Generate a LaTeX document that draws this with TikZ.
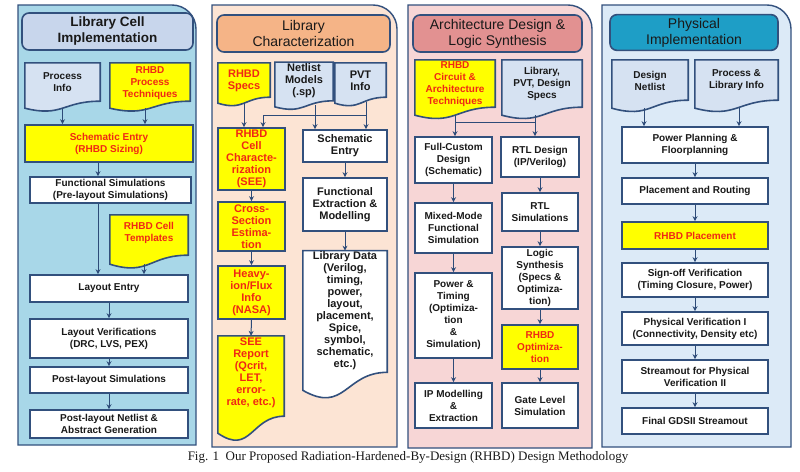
\documentclass[tikz,border=0pt]{standalone}
\usepackage{fontspec}
\newfontfamily\boxfont{Liberation Sans}
\newfontfamily\capfont{Liberation Serif}
\usetikzlibrary{arrows.meta,calc}

\definecolor{boxline}{RGB}{50,80,125}
\definecolor{flowc}{RGB}{45,75,120}
\definecolor{inkc}{RGB}{25,25,25}
\definecolor{panelA}{RGB}{168,215,232}
\definecolor{titleA}{RGB}{200,214,236}
\definecolor{panelB}{RGB}{252,228,212}
\definecolor{titleB}{RGB}{245,180,135}
\definecolor{panelC}{RGB}{247,214,214}
\definecolor{titleC}{RGB}{226,145,145}
\definecolor{panelD}{RGB}{220,234,247}
\definecolor{titleD}{RGB}{30,158,198}
\definecolor{docblue}{RGB}{214,226,242}
\definecolor{rhbdyel}{RGB}{255,255,0}
\definecolor{rhbdred}{RGB}{240,40,20}

\pgfdeclarelayer{bottom}
\pgfdeclarelayer{back}
\pgfsetlayers{bottom,back,main}

\newcommand{\boxtxt}{\boxfont\bfseries\fontsize{10}{12}\selectfont}
\newcommand{\widetxt}{\boxfont\bfseries\fontsize{11}{12}\selectfont}

% wavy document outline under a node: name, fill, depth, amplitude
\newcommand{\wave}[4]{%
\begin{pgfonlayer}{back}
\draw[docline, fill=#2] (#1.north west) -- (#1.north east) -- ([yshift=-#3pt+#4pt]#1.south east)
  .. controls ([yshift=-#3pt+#4pt]#1.south) and ([yshift=-#3pt-#4pt*4/3]#1.south) .. ([yshift=-#3pt]#1.south west) -- cycle;
\end{pgfonlayer}}

\tikzset{
  wh/.style 2 args={minimum width=#1, minimum height=#2},
  box/.style={draw=boxline, line width=1.6pt, fill=white, text=inkc, align=center, inner sep=1pt, font=\boxtxt},
  rhbd/.style={box, fill=rhbdyel, text=rhbdred},
  doc/.style={align=center, inner sep=1pt, text=inkc, font=\boxtxt},
  rdoc/.style={doc, text=rhbdred},
  wide/.style={font=\widetxt},
  docline/.style={draw=boxline, line width=1.6pt},
  title/.style={draw=boxline, line width=1.6pt, rounded corners=7pt, align=center, text=inkc, font=\boxfont\fontsize{14}{16}\selectfont},
  panel/.style={draw=boxline, line width=1.4pt},
  flow/.style={draw=flowc, line width=1pt, -{Stealth[length=5pt,width=5pt]}},
  link/.style={draw=flowc, line width=1pt}
}

\begin{document}
\begin{tikzpicture}[x=1pt,y=-1pt]
\useasboundingbox (0,0) rectangle (800,471);

% column panels
\begin{pgfonlayer}{bottom}
\draw[panel, fill=panelA] (100,5) [rounded corners=24pt] -- (196,5) -- (196,120) [sharp corners] -- (196,445) -- (18,445) -- (18,5) -- cycle;
\draw[panel, fill=panelB] (300,5) [rounded corners=24pt] -- (397,5) -- (397,120) [sharp corners] -- (397,447) -- (212,447) -- (212,5) -- cycle;
\draw[panel, fill=panelC] (500,5) [rounded corners=24pt] -- (592,5) -- (592,120) [sharp corners] -- (592,448) -- (408,448) -- (408,5) -- cycle;
\draw[panel, fill=panelD] (700,5) [rounded corners=24pt] -- (791,5) -- (791,120) [sharp corners] -- (791,447) -- (602,447) -- (602,5) -- cycle;
\end{pgfonlayer}

% Library Cell Implementation
\node[title, fill=titleA, wh={171}{37}, font=\boxfont\bfseries\fontsize{13.5}{16}\selectfont] (t1) at (107.5,31.5) {Library Cell\\Implementation};
\node[doc, wh={75}{38}] (d1a) at (62.5,82) {Process\\Info};
\node[rdoc, wh={80}{40}] (d1b) at (150,83) {RHBD\\Process\\Techniques};
\node[rhbd, wh={168}{37}] (b1) at (109,143.5) {Schematic Entry\\(RHBD Sizing)};
\node[box, wh={161}{26}] (b2) at (110.5,190) {Functional Simulations\\(Pre-layout Simulations)};
\node[rdoc, wh={78}{36}] (d1c) at (149,233) {RHBD Cell\\Templates};
\node[box, wh={158}{27}] (b3) at (109,288.5) {Layout Entry};
\node[box, wh={158}{39}] (b4) at (109,338.5) {Layout Verifications\\(DRC, LVS, PEX)};
\node[box, wh={158}{26}] (b5) at (109,380) {Post-layout Simulations};
\node[box, wh={158}{28}] (b6) at (109,424) {Post-layout Netlist \&\\Abstract Generation};
\wave{d1a}{docblue}{7}{7}
\wave{d1b}{rhbdyel}{5}{7}
\wave{d1c}{rhbdyel}{13}{9}

\draw[flow] ([yshift=-7pt]d1a.south) -- (d1a.south |- b1.north);
\draw[flow] ([xshift=-5pt,yshift=-5pt]d1b.south) -- ([xshift=-5pt]d1b.south |- b1.north);
\draw[flow] ([xshift=-11pt]b1.south) -- ([xshift=-11pt]b1.south |- b2.north);
\draw[flow] ([xshift=-12.5pt]b2.south) -- ([xshift=-12.5pt]b2.south |- b3.north);
\draw[flow] ([xshift=-5pt,yshift=-13pt]d1c.south) -- ([xshift=-5pt]d1c.south |- b3.north);
\draw[flow] (b3) -- (b4);
\draw[flow] (b4) -- (b5);
\draw[flow] (b5) -- (b6);

% Library Characterization
\node[title, fill=titleB, wh={173}{37}] (t2) at (303.5,33.5) {Library\\Characterization};
\node[rdoc, wide, wh={52}{36}] (d2a) at (244,81) {RHBD\\Specs};
\node[doc, wide, wh={58}{35}] (d2b) at (304,80.5) {Netlist\\Models\\(.sp)};
\node[doc, wide, wh={51}{36}] (d2c) at (360.5,81) {PVT\\Info};
\node[rhbd, wide, wh={67}{62}] (b2a) at (251.5,159) {RHBD\\Cell\\Characte-\\rization\\(SEE)};
\node[rhbd, wide, wh={67}{49}] (b2b) at (251.5,226.5) {Cross-\\Section\\Estima-\\tion};
\node[rhbd, wide, wh={67}{53}] (b2c) at (251.5,292.5) {Heavy-\\ion/Flux\\Info\\(NASA)};
\node[rdoc, wide, wh={66}{74}] (d2d) at (251,373) {SEE\\Report\\(Qcrit,\\LET,\\error-\\rate, etc.)};
\node[box, wide, wh={84}{32}] (b2d) at (345,146) {Schematic\\Entry};
\node[box, wide, wh={84}{53}] (b2e) at (345,204.5) {Functional\\Extraction \&\\Modelling};
\node[doc, wide, wh={84}{120}] (d2e) at (345,311) {Library Data\\(Verilog,\\timing,\\power,\\layout,\\placement,\\Spice,\\symbol,\\schematic,\\etc.)};
\wave{d2a}{rhbdyel}{4}{6}
\wave{d2b}{docblue}{8}{6}
\wave{d2c}{docblue}{4}{6}
\wave{d2d}{rhbdyel}{23}{17}
\wave{d2e}{white}{19}{18}

\coordinate (j2) at (263,115);
\draw[flow] ([yshift=-4pt]d2a.south) -- (d2a.south |- b2a.north);
\draw[flow] ([xshift=11pt,yshift=-6pt]d2b.south) -- ([xshift=11pt]d2b.south |- b2d.north);
\draw[flow] ([xshift=5.5pt,yshift=-3pt]d2c.south) -- ([xshift=5.5pt]d2c.south |- b2d.north);
\draw[link] (j2) -- ([xshift=5.5pt]j2 -| d2c.south);
\draw[flow] (j2) -- (j2 |- b2a.north);
\draw[flow] (b2a) -- (b2b);
\draw[flow] (b2b) -- (b2c);
\draw[flow] (b2c.south) -- (d2d.north);
\draw[flow] (b2d) -- (b2e);
\draw[flow] (b2e.south) -- (d2e.north);

% Architecture Design & Logic Synthesis
\node[title, fill=titleC, wh={169}{37}] (t3) at (497.5,33.5) {Architecture Design \&\\Logic Synthesis};
\node[rdoc, wh={80}{49}] (d3a) at (455,84.5) {RHBD\\Circuit \&\\Architecture\\Techniques};
\node[doc, wh={80}{48}] (d3b) at (542,84) {Library,\\PVT, Design\\Specs};
\node[box, wh={77}{46}] (b3a) at (453.5,160) {Full-Custom\\Design\\(Schematic)};
\node[box, wh={78}{40}] (b3b) at (540,157) {RTL Design\\(IP/Verilog)};
\node[box, wh={77}{50}] (b3c) at (453.5,228) {Mixed-Mode\\Functional\\Simulation};
\node[box, wh={76}{38}] (b3d) at (540,212) {RTL\\Simulations};
\node[box, wh={76}{62}] (b3e) at (540,278) {Logic\\Synthesis\\(Specs \&\\Optimiza-\\tion)};
\node[box, wh={77}{85}] (b3f) at (453.5,315.5) {Power \&\\Timing\\(Optimiza-\\tion\\\&\\Simulation)};
\node[rhbd, wh={76}{44}] (b3g) at (540,347) {RHBD\\Optimiza-\\tion};
\node[box, wh={77}{45}] (b3h) at (453.5,405.5) {IP Modelling\\\&\\Extraction};
\node[box, wh={76}{45}] (b3i) at (540,405.5) {Gate Level\\Simulation};
\wave{d3a}{rhbdyel}{6}{8}
\wave{d3b}{docblue}{7}{8}

\coordinate (j3) at (455,122);
\coordinate (k3) at (535,122);
\draw[link] ([yshift=-6pt]d3a.south) -- (j3) -- (k3);
\draw[link] ([xshift=-7pt,yshift=-7pt]d3b.south) -- (k3);
\draw[flow] (j3) -- (j3 |- b3a.north);
\draw[flow] (k3) -- (k3 |- b3b.north);
\draw[flow] (b3a) -- (b3c);
\draw[flow] (b3c) -- (b3f);
\draw[flow] (b3f) -- (b3h);
\draw[flow] (b3b) -- (b3d);
\draw[flow] (b3d) -- (b3e);
\draw[flow] (b3e) -- (b3g);
\draw[flow] (b3g) -- (b3i);

% Physical Implementation
\node[title, fill=titleD, wh={168}{35}] (t4) at (694,32.5) {Physical\\Implementation};
\node[doc, wh={76}{42}] (d4a) at (650,81) {Design\\Netlist};
\node[doc, wh={83}{41}] (d4b) at (736.5,80.5) {Process \&\\Library Info};
\node[box, wh={146}{36}] (b4a) at (695,145) {Power Planning \&\\Floorplanning};
\node[box, wh={146}{26}] (b4b) at (695,191) {Placement and Routing};
\node[rhbd, wh={146}{27}] (b4c) at (695,235.5) {RHBD Placement};
\node[box, wh={146}{34}] (b4d) at (695,280) {Sign-off Verification\\(Timing Closure, Power)};
\node[box, wh={146}{33}] (b4e) at (695,328.5) {Physical Verification I\\(Connectivity, Density etc)};
\node[box, wh={146}{33}] (b4f) at (695,376.5) {Streamout for Physical\\Verification II};
\node[box, wh={146}{26}] (b4g) at (695,421) {Final GDSII Streamout};
\wave{d4a}{docblue}{6}{8}
\wave{d4b}{docblue}{7}{8}

\draw[flow] ([xshift=-6pt,yshift=-6pt]d4a.south) -- ([xshift=-6pt]d4a.south |- b4a.north);
\draw[flow] ([xshift=2.5pt,yshift=-7pt]d4b.south) -- ([xshift=2.5pt]d4b.south |- b4a.north);
\draw[flow] (b4a) -- (b4b);
\draw[flow] (b4b) -- (b4c);
\draw[flow] (b4c) -- (b4d);
\draw[flow] (b4d) -- (b4e);
\draw[flow] (b4e) -- (b4f);
\draw[flow] (b4f) -- (b4g);

% caption
\node[font=\capfont\fontsize{13}{15}\selectfont, text=inkc] (cap) at (408,457) {Fig. 1\ \ Our Proposed Radiation-Hardened-By-Design (RHBD) Design Methodology};
\end{tikzpicture}
\end{document}
